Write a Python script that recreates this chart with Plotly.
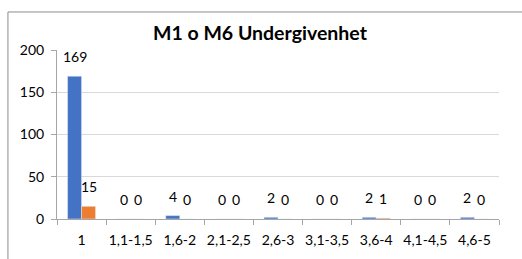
import plotly.graph_objects as go

categories = ["1", "1,1-1,5", "1,6-2", "2,1-2,5", "2,6-3", "3,1-3,5", "3,6-4", "4,1-4,5", "4,6-5"]
m1_values = [169, 0, 4, 0, 2, 0, 2, 0, 2]
m6_values = [15, 0, 0, 0, 0, 0, 1, 0, 0]
title_text = "M1 o M6 Undergivenhet"

font_family = "Lato"
label_size = 14

fig = go.Figure()
fig.add_trace(go.Bar(x=categories, y=m1_values, name="M1", marker_color="#4472C4"))
fig.add_trace(go.Bar(x=categories, y=m6_values, name="M6", marker_color="#ED7D31"))

annotations = []
for series, shift in ((m1_values, -7), (m6_values, 7)):
    for idx, val in enumerate(series):
        # on a category axis, a numeric x refers to the category's index
        annotations.append(dict(x=idx, y=val, xref="x", yref="y", text=str(val), showarrow=False,
                                xshift=shift, yshift=9, yanchor="bottom", xanchor="center",
                                font=dict(size=label_size, family=font_family, color="#000000")))

fig.update_layout(
    width=522, height=259,
    margin=dict(l=57, r=23, t=50, b=40),
    paper_bgcolor="white", plot_bgcolor="white",
    barmode="group", bargap=0.43, bargroupgap=0,
    showlegend=False,
    font=dict(family=font_family, size=label_size, color="#000000"),
    title=dict(text="<b>" + title_text + "</b>", x=0.498, xanchor="center", y=0.873, yanchor="middle",
               font=dict(size=19.5, family=font_family, color="#000000")),
    xaxis=dict(type="category", showgrid=False, showline=True, linecolor="#A6A6A6", linewidth=1,
               ticks="outside", tickson="boundaries", ticklen=5, tickcolor="#A6A6A6",
               tickangle=0, tickfont=dict(size=label_size), ticklabelstandoff=8, fixedrange=True),
    yaxis=dict(range=[0, 200], dtick=50, showgrid=True, gridcolor="#D9D9D9", gridwidth=1,
               showline=True, linecolor="#A6A6A6", linewidth=1, ticks="outside", ticklen=5,
               tickcolor="#A6A6A6", tickfont=dict(size=label_size), ticklabelstandoff=4,
               zeroline=False, fixedrange=True),
    annotations=annotations,
    shapes=[
        dict(type="line", xref="paper", yref="paper", x0=-0.111, x1=1.1, y0=1.225, y1=1.225,
             line=dict(color="#8C8C8C", width=1)),
        dict(type="line", xref="paper", yref="paper", x0=-0.111, x1=-0.111, y0=1.225, y1=-0.3,
             line=dict(color="#8C8C8C", width=1)),
    ],
)

fig.write_html("out.html", config={"displayModeBar": False},
               post_script="document.body.style.margin='0';document.body.style.overflow='hidden';")
